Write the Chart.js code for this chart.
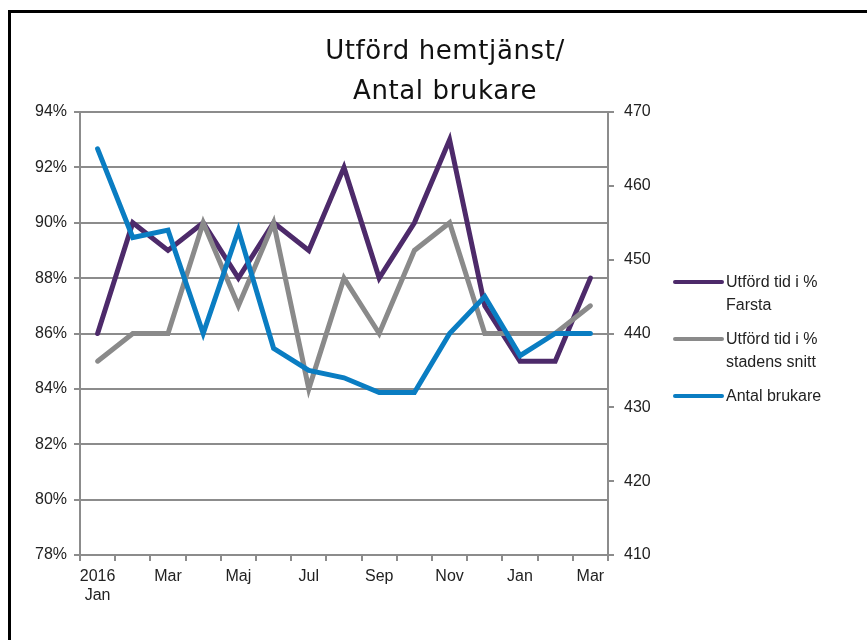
<!DOCTYPE html>
<html>
<head>
<meta charset="utf-8">
<script src="https://cdn.jsdelivr.net/npm/chart.js@4.4.1/dist/chart.umd.min.js"></script>
<style>
  html, body { margin: 0; padding: 0; background: #fff; }
  #wrap { position: relative; width: 867px; height: 640px; overflow: hidden; }
  #frame { position: absolute; left: 8px; top: 10px; width: 900px; height: 700px;
           border-top: 3px solid #000; border-left: 3px solid #000; }
  #title { position: absolute; left: 245px; width: 400px; top: 30px; text-align: center;
           font-family: "DejaVu Sans", sans-serif; font-size: 26px; letter-spacing: 0.6px;
           line-height: 40px; color: #111; }
  #legend { position: absolute; left: 673px; top: 270px; font-family: "Liberation Sans", Arial, sans-serif;
            font-size: 16px; color: #222; line-height: 23px; }
  .item { position: relative; padding-left: 53px; margin-bottom: 11px; }
  .swatch { position: absolute; left: 0; top: 10px; width: 51px; height: 4px; border-radius: 2px; }
  canvas { position: absolute; left: 0; top: 0; }
</style>
</head>
<body>
<div id="wrap">
  <canvas id="chart" width="867" height="640"></canvas>
  <div id="frame"></div>
  <div id="title">Utförd hemtjänst/<br>Antal brukare</div>
  <div id="legend"></div>
</div>
<script>
// months Jan 2016 - Mar 2017
const months = [['2016', 'Jan'], 'Feb', 'Mar', 'Apr', 'Maj', 'Jun', 'Jul', 'Aug', 'Sep', 'Okt', 'Nov', 'Dec', 'Jan', 'Feb', 'Mar'];
const farsta = [86, 90, 89, 90, 88, 90, 89, 92, 88, 90, 93, 87, 85, 85, 88];
const stadenSnitt = [85, 86, 86, 90, 87, 90, 84, 88, 86, 89, 90, 86, 86, 86, 87];
const antalBrukare = [465, 453, 454, 440, 454, 438, 435, 434, 432, 432, 440, 445, 437, 440, 440];

const seriesNames = [['Utförd tid i %', 'Farsta'], ['Utförd tid i %', 'stadens snitt'], ['Antal brukare']];
const colors = ['#4d2a6a', '#8a8a8a', '#0a7dc2'];

const gridGrey = '#8c8c8c';
const tickFont = { family: '"Liberation Sans", Arial, sans-serif', size: 16 };

const ctx = document.getElementById('chart').getContext('2d');
const chart = new Chart(ctx, {
    type: 'line',
    data: {
        labels: months,
        datasets: [
            { label: 'Farsta', data: farsta, borderColor: colors[0], yAxisID: 'y', order: 2 },
            { label: 'Staden', data: stadenSnitt, borderColor: colors[1], yAxisID: 'y', order: 1 },
            { label: 'Brukare', data: antalBrukare, borderColor: colors[2], yAxisID: 'y2', order: 0 }
        ]
    },
    options: {
        responsive: false,
        animation: false,
        layout: { padding: { left: 0, right: 189, top: 112, bottom: 35 } },
        elements: {
            line: { borderWidth: 5, tension: 0, borderCapStyle: 'round', borderJoinStyle: 'miter' },
            point: { radius: 0 }
        },
        plugins: { legend: { display: false }, tooltip: { enabled: false } },
        scales: {
            x: {
                offset: true,
                afterFit: (scale) => { scale.height = 50; },
                grid: { offset: true, drawOnChartArea: false, color: gridGrey, lineWidth: 2, tickLength: 6 },
                border: { color: gridGrey, width: 2 },
                ticks: {
                    autoSkip: false, maxRotation: 0, padding: 6, color: '#222', font: tickFont,
                    callback: function (val, i) { return i % 2 === 0 ? this.getLabelForValue(val) : ''; }
                }
            },
            y: {
                position: 'left',
                min: 78, max: 94,
                afterFit: (scale) => { scale.width = 80; },
                grid: { color: gridGrey, lineWidth: 2, tickLength: 6 },
                border: { color: gridGrey, width: 2 },
                ticks: { stepSize: 2, padding: 7, color: '#222', font: tickFont, callback: v => v + '%' }
            },
            y2: {
                position: 'right',
                min: 410, max: 470,
                afterFit: (scale) => { scale.width = 70; },
                grid: { drawOnChartArea: false, color: gridGrey, lineWidth: 2, tickLength: 6 },
                border: { color: gridGrey, width: 2 },
                ticks: { stepSize: 10, padding: 10, color: '#222', font: tickFont }
            }
        }
    }
});

// legend on the right
const legend = document.getElementById('legend');
seriesNames.forEach((lines, i) => {
    const item = document.createElement('div');
    item.className = 'item';
    item.innerHTML = '<span class="swatch" style="background:' + colors[i] + '"></span>' + lines.join('<br>');
    legend.appendChild(item);
});
</script>
</body>
</html>
